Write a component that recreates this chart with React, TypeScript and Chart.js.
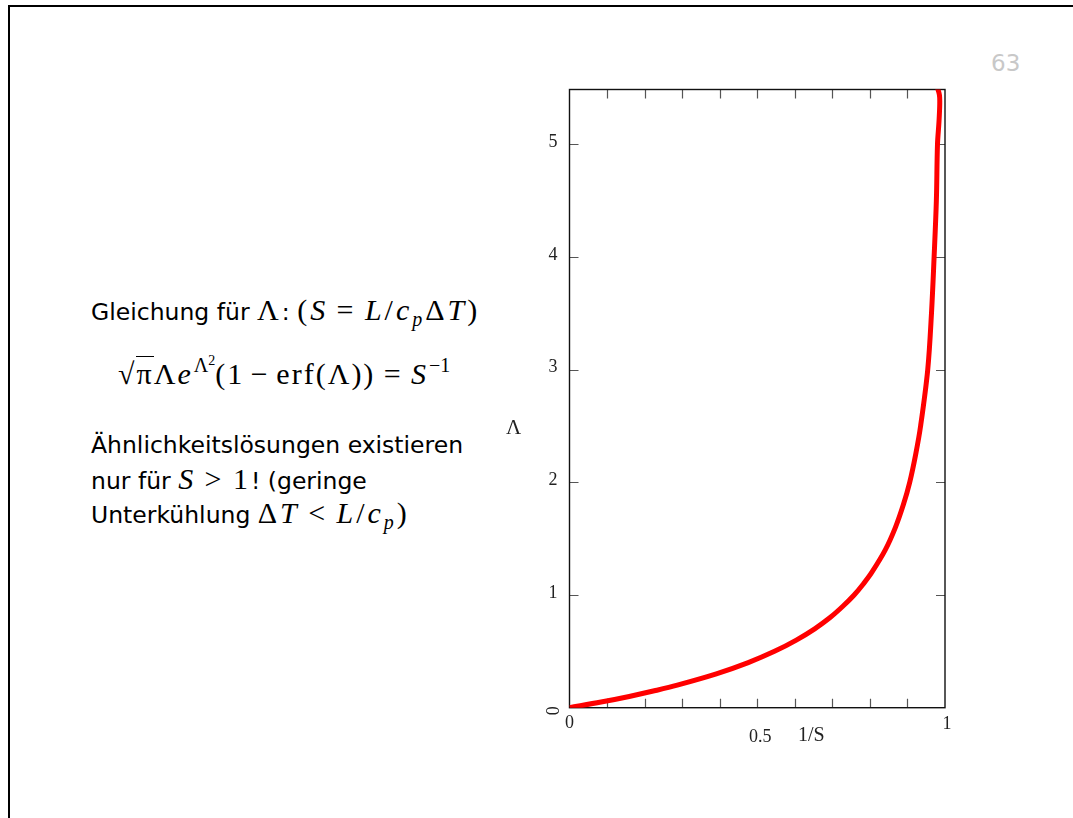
import React, { useEffect, useRef } from "react";
import { Chart, registerables } from "chart.js";

Chart.register(...registerables);

// Curve: x = 1/S, y = Λ
const invS = [0, 0.084, 0.159, 0.226, 0.287, 0.391, 0.476, 0.546, 0.604, 0.653, 0.694, 0.728, 0.758, 0.783, 0.805, 0.841, 0.868, 0.889, 0.906, 0.922, 0.935, 0.954, 0.964, 0.971, 0.977, 0.980, 0.984, 0.986, 0.985, 0.978];
const lambda = [0, 0.05, 0.1, 0.15, 0.2, 0.3, 0.4, 0.5, 0.6, 0.7, 0.8, 0.9, 1.0, 1.1, 1.2, 1.4, 1.6, 1.8, 2.0, 2.25, 2.5, 3.0, 3.5, 4.0, 4.5, 5.0, 5.2, 5.36, 5.44, 5.52];

const yTicks = [1, 2, 3, 4, 5];
const yTickLabels = ["1", "2", "3", "4", "5"];
const xMinorTicks = [0.1, 0.2, 0.3, 0.4, 0.5, 0.6, 0.7, 0.8, 0.9];
const xTickLabels = ["0", "0.5", "1"];
const xTitle = "1/S";
const yTitle = "Λ";

const SERIF = '"Liberation Serif", "DejaVu Serif", serif';
const SANS = '"DejaVu Sans", sans-serif';

const framePlugin = {
  id: "frameTicks",
  beforeDatasetsDraw(chart: any) {
    const { ctx, chartArea: a, scales } = chart;
    const xs = scales.x;
    const ys = scales.y;
    ctx.save();
    ctx.strokeStyle = "#555";
    ctx.lineWidth = 1.2;
    ctx.beginPath();
    for (const v of yTicks) {
      const py = Math.round(ys.getPixelForValue(v)) + 0.5;
      ctx.moveTo(a.left, py);
      ctx.lineTo(a.left + 9, py);
      ctx.moveTo(a.right, py);
      ctx.lineTo(a.right - 9, py);
    }
    for (const v of xMinorTicks) {
      const px = Math.round(xs.getPixelForValue(v)) + 0.5;
      ctx.moveTo(px, a.bottom);
      ctx.lineTo(px, a.bottom - 9);
      ctx.moveTo(px, a.top);
      ctx.lineTo(px, a.top + 9);
    }
    ctx.stroke();
    ctx.strokeStyle = "#111";
    ctx.lineWidth = 1.4;
    ctx.strokeRect(a.left, a.top, a.right - a.left, a.bottom - a.top);
    ctx.restore();
  },
  afterDraw(chart: any) {
    const { ctx, chartArea: a, scales } = chart;
    const xs = scales.x;
    const ys = scales.y;
    ctx.save();
    ctx.fillStyle = "#222";
    ctx.font = `18px ${SERIF}`;
    ctx.textAlign = "right";
    ctx.textBaseline = "middle";
    yTicks.forEach((v, i) => {
      ctx.fillText(yTickLabels[i], a.left - 12, ys.getPixelForValue(v) - 2);
    });
    // rotated zero on the y axis
    ctx.save();
    ctx.translate(a.left - 15, ys.getPixelForValue(0) + 3);
    ctx.rotate(-Math.PI / 2);
    ctx.textAlign = "center";
    ctx.fillText("0", 0, 0);
    ctx.restore();
    ctx.textAlign = "center";
    ctx.fillText(xTickLabels[0], xs.getPixelForValue(0), a.bottom + 16);
    ctx.fillText(xTickLabels[1], xs.getPixelForValue(0.5) + 3, a.bottom + 30);
    ctx.fillText(xTickLabels[2], xs.getPixelForValue(1) + 2, a.bottom + 17);
    ctx.font = `20px ${SERIF}`;
    ctx.fillText(xTitle, xs.getPixelForValue(0.5) + 54, a.bottom + 28);
    ctx.font = `21px ${SERIF}`;
    ctx.fillText(yTitle, a.left - 56, ys.getPixelForValue(2.48));
    ctx.restore();
  },
};

function PlotChart() {
  const ref = useRef<HTMLCanvasElement | null>(null);
  useEffect(() => {
    if (!ref.current) return;
    const chart = new Chart(ref.current, {
      type: "scatter",
      data: {
        datasets: [
          {
            data: invS.map((x, i) => ({ x, y: lambda[i] })),
            showLine: true,
            borderColor: "#ff0000",
            borderWidth: 5,
            pointRadius: 0,
            tension: 0.35,
            fill: false,
          },
        ],
      },
      options: {
        animation: false,
        responsive: false,
        devicePixelRatio: 1,
        layout: { padding: { left: 89.5, right: 35, top: 19.5, bottom: 62.3 } },
        plugins: { legend: { display: false }, tooltip: { enabled: false } },
        scales: {
          x: { type: "linear", min: 0, max: 1, display: false },
          y: { type: "linear", min: 0, max: 5.486, display: false },
        },
      },
      plugins: [framePlugin],
    });
    return () => chart.destroy();
  }, []);
  return (
    <canvas
      ref={ref}
      width={500}
      height={700}
      style={{ position: "absolute", left: 480, top: 70, width: 500, height: 700 }}
    />
  );
}

const MATH_SIZE = 30;
const mi: React.CSSProperties = { fontFamily: SERIF, fontStyle: "italic", fontSize: MATH_SIZE, letterSpacing: 3 };
const mu: React.CSSProperties = { fontFamily: SERIF, fontStyle: "normal", fontSize: MATH_SIZE, letterSpacing: 3 };
const supS: React.CSSProperties = { fontSize: 20, position: "relative", top: -12, verticalAlign: "baseline", fontFamily: SERIF, marginLeft: 1 };
const subS: React.CSSProperties = { fontSize: 20, position: "relative", top: 6, verticalAlign: "baseline", fontFamily: SERIF, fontStyle: "italic", marginRight: 3 };
const rel: React.CSSProperties = { ...mu, margin: "0 0.28em" };
const bin: React.CSSProperties = { ...mu, margin: "0 0.22em" };
const fmi: React.CSSProperties = { ...mi, letterSpacing: 2 };
const fmu: React.CSSProperties = { ...mu, letterSpacing: 2 };

const lineStyle: React.CSSProperties = {
  position: "absolute",
  left: 91,
  fontFamily: SANS,
  fontSize: 23.5,
  lineHeight: "24px",
  whiteSpace: "nowrap",
  color: "#000",
};

export default function App() {
  return (
    <div
      style={{
        position: "absolute",
        left: 0,
        top: 0,
        width: 1073,
        height: 818,
        overflow: "hidden",
        background: "#fff",
      }}
    >
      <div
        style={{
          position: "absolute",
          left: 8,
          top: 5,
          width: 1200,
          height: 1000,
          borderLeft: "2.5px solid #000",
          borderTop: "2.5px solid #000",
        }}
      />
      <div
        style={{
          position: "absolute",
          left: 991,
          top: 52,
          fontFamily: SANS,
          fontSize: 23,
          lineHeight: "23px",
          color: "#c8c8c8",
        }}
      >
        63
      </div>
      <div style={{ ...lineStyle, top: 298 }}>
        Gleichung für <span style={mu}>Λ</span>: <span style={mu}>(</span>
        <span style={mi}>S</span>
        <span style={rel}>=</span>
        <span style={mi}>L</span>
        <span style={mu}>/</span>
        <span style={mi}>c</span>
        <span style={subS}>p</span>
        <span style={mu}>Δ</span>
        <span style={mi}>T</span>
        <span style={mu}>)</span>
      </div>
      <div style={{ ...lineStyle, left: 118, top: 362 }}>
        <span style={fmu}>√</span>
        <span style={{ ...fmu, borderTop: "1.6px solid #000" }}>π</span>
        <span style={fmu}>Λ</span>
        <span style={fmi}>e</span>
        <span style={supS}>
          Λ<span style={{ fontSize: 14, position: "relative", top: -7 }}>2</span>
        </span>
        <span style={fmu}>(1</span>
        <span style={{ ...fmu, margin: "0 0.22em" }}>−</span>
        <span style={fmu}>erf(Λ))</span>
        <span style={{ ...fmu, margin: "0 0.28em" }}>=</span>
        <span style={fmi}>S</span>
        <span style={supS}>−1</span>
      </div>
      <div style={{ ...lineStyle, top: 433 }}>Ähnlichkeitslösungen existieren</div>
      <div style={{ ...lineStyle, top: 467 }}>
        nur für <span style={mi}>S</span>
        <span style={rel}>&gt;</span>
        <span style={mu}>1</span>! (geringe
      </div>
      <div style={{ ...lineStyle, top: 501 }}>
        Unterkühlung <span style={mu}>Δ</span>
        <span style={mi}>T</span>
        <span style={rel}>&lt;</span>
        <span style={mi}>L</span>
        <span style={mu}>/</span>
        <span style={mi}>c</span>
        <span style={subS}>p</span>
        <span style={mu}>)</span>
      </div>
      <PlotChart />
    </div>
  );
}
